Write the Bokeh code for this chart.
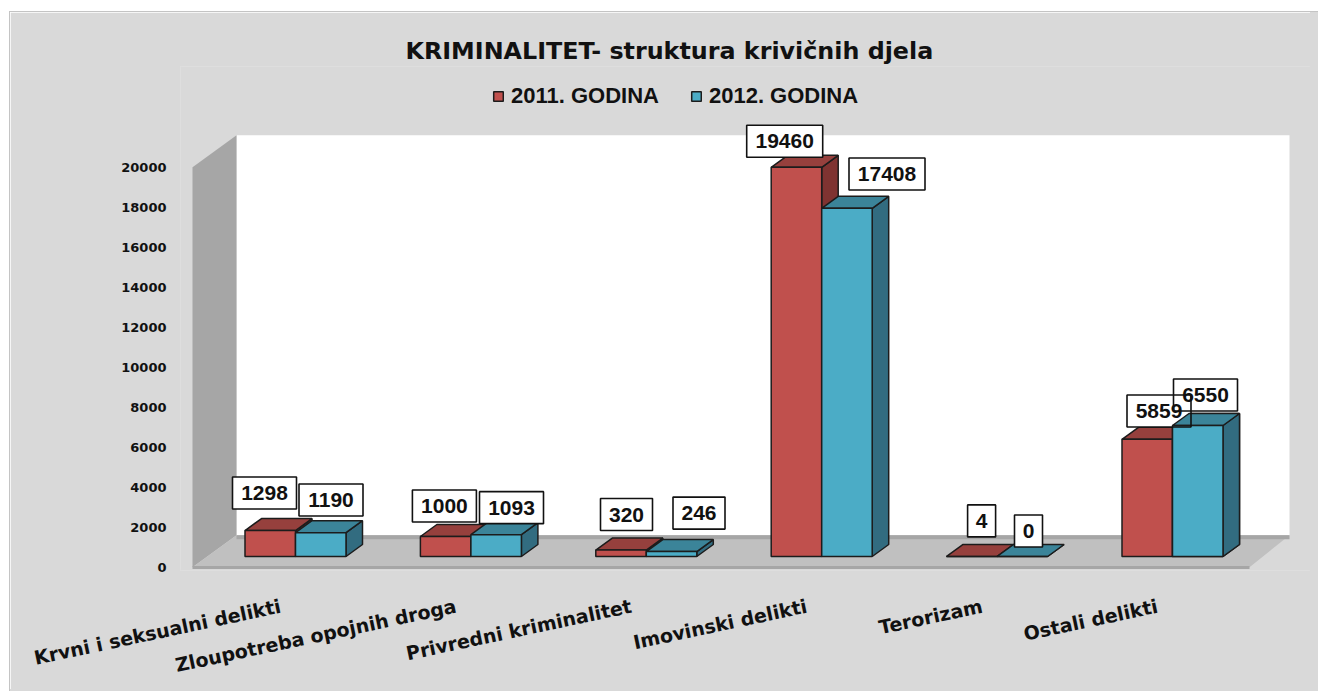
from bokeh.embed import file_html
from bokeh.resources import INLINE
from bokeh.plotting import figure
from bokeh.models import (ColumnDataSource, FixedTicker, Legend, LegendItem, Range1d, Span, Title)
from bokeh.core.properties import value

# ---- data ----
categories = ["Krvni i seksualni delikti", "Zloupotreba opojnih droga", "Privredni kriminalitet",
              "Imovinski delikti", "Terorizam", "Ostali delikti"]
series_names = ["2011. GODINA", "2012. GODINA"]
values_2011 = [1298, 1000, 320, 19460, 4, 5859]
values_2012 = [1190, 1093, 246, 17408, 0, 6550]
y_ticks = [0, 2000, 4000, 6000, 8000, 10000, 12000, 14000, 16000, 18000, 20000]
title_text = "KRIMINALITET-  struktura krivičnih djela"

# ---- layout (pixels of the page) ----
PX_PER_CAT, PX_CAT0 = 175.4, 295.0
PX_PER_UNIT, PY_ZERO = 0.02, 566.7
FRAME_L, FRAME_R, FRAME_T, FRAME_B = 180, 1310, 66, 570
BAR_W, BAR_DX, BAR_DY, BAR_BASE = 50.5, 16.5, 12.0, 556.0
WALL_DX, WALL_DY = 44, 32
WALL_L, FLOOR_FR, BACK_R = 192, 1249, 1289
LABEL_SHIFT = -15.0 / PX_PER_CAT
# label box centre relative to the bar's top-left front corner
OFF_2011 = [(19.5, -37.5), (24, -30.5), (30.7, -35.6), (13.5, -26), (35, -35.5), (37, -28.3)]
OFF_2012 = [(35.5, -32.7), (40.6, -27), (52.7, -38.5), (65.3, -34.3), (31.4, -25.5), (33, -30.5)]

BG = "#d9d9d9"
RULE = "#c4c4c4"
WALL = "#a6a6a6"
FLOOR = "#c0c0c0"
EDGE = "#1c1c1c"
COL = [dict(front="#c0504d", top="#96403d", side="#7f3331"),
       dict(front="#4bacc6", top="#3b8499", side="#326c80")]
FONT = "Liberation Sans"


def X(px):
    return (px - PX_CAT0) / PX_PER_CAT


def Y(py):
    return (PY_ZERO - py) / PX_PER_UNIT


shadow = (f"8px 0 0 {BG}, 0 8px 0 {BG}, 8px 8px 0 {BG}, "
          f"-1px -1px 0 {RULE}, 8px -1px 0 {RULE}, -1px 8px 0 {RULE}")
p = figure(height=671, width=1300, frame_width=FRAME_R - FRAME_L, frame_height=FRAME_B - FRAME_T,
           output_backend="svg", toolbar_location=None,
           x_range=Range1d(X(FRAME_L), X(FRAME_R)), y_range=Range1d(Y(FRAME_B), Y(FRAME_T)),
           min_border_left=FRAME_L - 10, min_border_right=0, min_border_top=FRAME_T - 12,
           min_border_bottom=671 - (FRAME_B - 12), margin=(12, 0, 0, 10),
           background_fill_color=BG, border_fill_color=BG, outline_line_color=None,
           styles={"box-shadow": shadow})
p.grid.visible = False

# cover the faint seam between the frame and its border
for dim, loc in (("width", Y(FRAME_T)), ("width", Y(FRAME_B)),
                 ("height", X(FRAME_L)), ("height", X(FRAME_R))):
    p.add_layout(Span(location=loc, dimension=dim, line_color=BG, line_width=3))

# ---- walls and floor ----
top_v = y_ticks[-1]
wall_top = Y(PY_ZERO - top_v * PX_PER_UNIT)
back_top = wall_top + WALL_DY / PX_PER_UNIT
back_bot = y_ticks[0] + WALL_DY / PX_PER_UNIT
back_l = WALL_L + WALL_DX
p.quad(left=[X(back_l)], right=[X(BACK_R)], top=[back_top], bottom=[back_bot],
       fill_color="white", line_color=None)
p.patch([X(WALL_L), X(back_l), X(back_l), X(WALL_L)], [wall_top, back_top, back_bot, 0],
        fill_color=WALL, line_color=None)
p.patch([X(WALL_L), X(back_l), X(BACK_R), X(FLOOR_FR)], [0, back_bot, back_bot, 0],
        fill_color=FLOOR, line_color=None)
p.quad(left=[X(back_l)], right=[X(BACK_R)], top=[back_bot], bottom=[back_bot - 4 / PX_PER_UNIT],
       fill_color=WALL, line_color=None)
p.quad(left=[X(WALL_L)], right=[X(FLOOR_FR)], top=[Y(565.5)], bottom=[Y(568.5)],
       fill_color=WALL, line_color=None)


def bar_geometry(vals, s):
    out = {k: [] for k in ("l", "r", "t", "b", "tx", "ty", "sx", "sy")}
    for i, v in enumerate(vals):
        l = PX_CAT0 + i * PX_PER_CAT - (BAR_W if s == 0 else 0)
        r = l + BAR_W
        t = BAR_BASE - v * PX_PER_UNIT
        out["l"].append(X(l))
        out["r"].append(X(r))
        out["t"].append(Y(t))
        out["b"].append(Y(BAR_BASE))
        out["tx"].append([X(l), X(l + BAR_DX), X(r + BAR_DX), X(r)])
        out["ty"].append([Y(t), Y(t - BAR_DY), Y(t - BAR_DY), Y(t)])
        out["sx"].append([X(r), X(r + BAR_DX), X(r + BAR_DX), X(r)])
        out["sy"].append([Y(t), Y(t - BAR_DY), Y(BAR_BASE - BAR_DY), Y(BAR_BASE)])
    return out


def draw_bars(g, s, idx):
    pick = lambda k: [g[k][i] for i in idx]
    c = COL[s]
    p.patches(pick("sx"), pick("sy"), fill_color=c["side"], line_color=EDGE, line_width=1.5)
    p.patches(pick("tx"), pick("ty"), fill_color=c["top"], line_color=EDGE, line_width=1.5)
    return p.quad(left=pick("l"), right=pick("r"), top=pick("t"), bottom=pick("b"),
                  fill_color=c["front"], line_color=EDGE, line_width=1.5)


g11 = bar_geometry(values_2011, 0)
g12 = bar_geometry(values_2012, 1)
all_idx = list(range(len(categories)))
fronts = []
for s, g in enumerate((g11, g12)):
    fronts.append(draw_bars(g, s, all_idx))

# ---- value labels ----
bx0, bx1, by0, by1, tx, ty, tt = [], [], [], [], [], [], []
for s, (vals, off) in enumerate(((values_2011, OFF_2011), (values_2012, OFF_2012))):
    for i, v in enumerate(vals):
        l = PX_CAT0 + i * PX_PER_CAT - (BAR_W if s == 0 else 0)
        t = BAR_BASE - v * PX_PER_UNIT
        cx, cy = l + off[i][0], t + off[i][1]
        w = 16 + 12 * len(str(v))
        bx0.append(X(cx - w / 2))
        bx1.append(X(cx + w / 2))
        by0.append(Y(cy + 16))
        by1.append(Y(cy - 16))
        tx.append(X(cx))
        ty.append(Y(cy))
        tt.append(str(v))
src = ColumnDataSource(dict(l=bx0, r=bx1, b=by0, t=by1, x=tx, y=ty, text=tt))
p.quad(left="l", right="r", bottom="b", top="t", source=src, fill_color="white", line_color=None)
# the last 2012 bar lies above the neighbouring label's white box in the reference
draw_bars(g12, 1, [len(categories) - 1])
p.quad(left="l", right="r", bottom="b", top="t", source=src, fill_color=None,
       line_color="#111111", line_width=1.6)
p.text(x="x", y="y", text="text", source=src, text_font=value(FONT), text_font_style="bold",
       text_font_size="21px", text_align="center", text_baseline="middle", text_color="#111111")

# ---- axes ----
p.yaxis.ticker = FixedTicker(ticks=y_ticks)
p.yaxis.axis_line_color = None
p.yaxis.major_tick_line_color = None
p.yaxis.minor_tick_line_color = None
p.yaxis.major_label_standoff = 8
p.yaxis.major_label_text_font = "DejaVu Sans"
p.yaxis.major_label_text_font_style = "bold"
p.yaxis.major_label_text_font_size = "13px"
p.yaxis.major_label_text_color = "#111111"

x_ticks = [i + LABEL_SHIFT for i in all_idx]
p.xaxis.ticker = FixedTicker(ticks=x_ticks)
p.xaxis.major_label_overrides = {t: c for t, c in zip(x_ticks, categories)}
p.xaxis.major_label_orientation = 0.21
p.xaxis.axis_line_color = None
p.xaxis.major_tick_line_color = None
p.xaxis.minor_tick_line_color = None
p.xaxis.major_label_standoff = 29
p.xaxis.major_label_text_font = "DejaVu Sans"
p.xaxis.major_label_text_font_style = "bold"
p.xaxis.major_label_text_font_size = "19px"
p.xaxis.major_label_text_color = "#111111"

# ---- title and legend ----
legend = Legend(items=[LegendItem(label=series_names[0], renderers=[fronts[0]]),
                       LegendItem(label=series_names[1], renderers=[fronts[1]])],
                orientation="horizontal", location=(312, FRAME_B - 109), padding=0, margin=0,
                spacing=31, label_standoff=7, glyph_width=12, glyph_height=12,
                border_line_color=None, background_fill_color=None, background_fill_alpha=0,
                label_text_font=FONT, label_text_font_style="bold", label_text_font_size="22px",
                label_text_color="#111111")
p.add_layout(legend, "center")
p.add_layout(Title(text=title_text, align="left", offset=225, standoff=4,
                   text_font="DejaVu Sans", text_font_size="23.8px", text_font_style="bold",
                   text_color="#111111"), "above")

open("out.html", "w").write(file_html(p, INLINE))
